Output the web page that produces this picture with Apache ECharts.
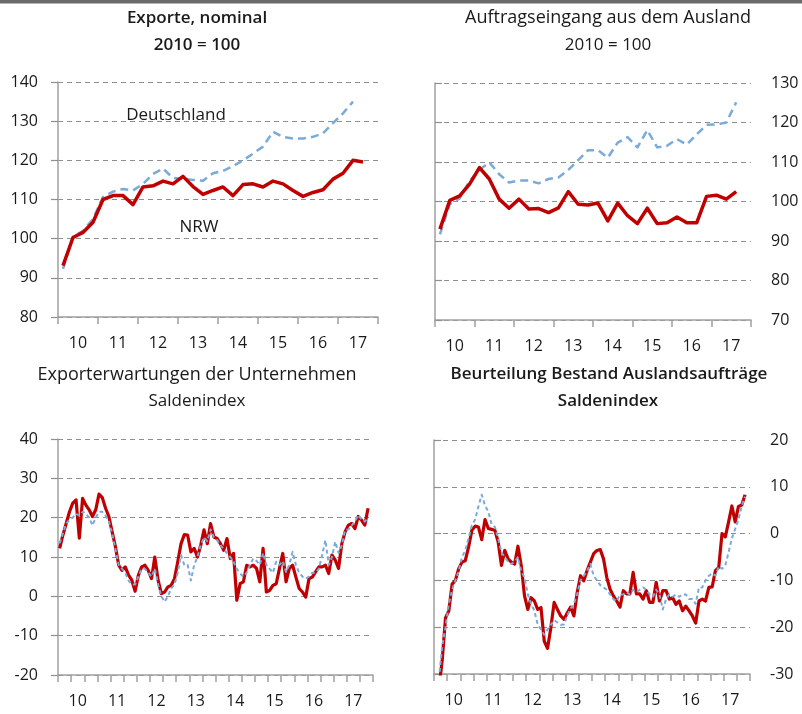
<!DOCTYPE html>
<html><head><meta charset="utf-8">
<script src="https://cdn.jsdelivr.net/npm/echarts@6/dist/echarts.min.js"></script>
<style>html,body{margin:0;padding:0;background:#fff}#c{width:802px;height:714px}</style>
</head><body><div id="c"></div>
<script>
// Year labels on the x axes
const yearLabels = ['10','11','12','13','14','15','16','17'];

// Panel 1: Exporte, nominal (quarterly, 2010 = 100)
const exportNRW = [93.1, 100.3, 101.6, 104.2, 110.0, 111.0, 111.0, 108.7, 113.2, 113.5, 114.7, 114.0, 115.9, 113.3, 111.3, 112.3, 113.2, 111.0, 113.8, 114.0, 113.2, 114.7, 114.0, 112.3, 110.8, 111.8, 112.5, 115.2, 116.7, 120.0, 119.6];
const exportDE  = [92.3, 100.5, 102.0, 105.0, 110.7, 112.0, 112.7, 112.3, 114.0, 116.5, 117.9, 115.5, 115.3, 115.0, 114.8, 116.7, 117.3, 118.5, 120.0, 121.7, 123.5, 127.3, 126.0, 125.6, 125.6, 126.0, 126.9, 129.5, 132.0, 135.0];

// Panel 2: Auftragseingang aus dem Ausland (quarterly, 2010 = 100)
const orderNRW = [93.0, 100.3, 101.4, 104.4, 108.6, 105.7, 100.6, 98.3, 100.6, 98.1, 98.2, 97.2, 98.4, 102.5, 99.3, 99.1, 99.6, 95.1, 99.6, 96.4, 94.4, 98.3, 94.4, 94.6, 96.1, 94.6, 94.6, 101.3, 101.6, 100.6, 102.5];
const orderDE  = [91.7, 99.3, 100.8, 105.2, 108.0, 109.9, 106.9, 104.8, 105.3, 105.3, 104.6, 105.7, 106.1, 108.0, 110.5, 113.0, 113.0, 111.1, 114.9, 116.3, 113.7, 118.1, 113.7, 114.1, 115.8, 114.4, 117.0, 119.4, 119.5, 120.0, 125.1];

// Panel 3: Exporterwartungen der Unternehmen (monthly, Saldenindex)
const expectNRW = [12.2, 15.6, 18.5, 21.5, 23.7, 24.5, 14.8, 24.9, 23.2, 22.0,
  20.3, 22.0, 26.0, 25.1, 22.4, 20.3, 16.4, 12.6, 7.9, 6.6,
  7.5, 5.4, 4.1, 1.3, 5.4, 7.5, 7.9, 6.6, 4.5, 10.0,
  4.1, 0.7, 1.1, 2.4, 2.8, 4.5, 8.8, 13.4, 15.7, 15.6,
  11.3, 12.2, 10.0, 13.0, 16.9, 13.4, 18.5, 15.1, 14.7, 13.4,
  11.7, 14.7, 9.6, 10.9, -1.0, 3.2, 3.7, 7.9, 7.5, 7.9,
  7.1, 3.7, 12.2, 1.1, 1.5, 2.8, 3.2, 7.1, 10.9, 3.7,
  7.1, 7.9, 4.9, 2.0, 1.1, -0.2, 4.5, 4.9, 6.2, 7.5,
  7.5, 7.9, 5.8, 10.5, 9.2, 7.1, 13.4, 16.4, 18.1, 18.5,
  17.2, 20.3, 19.4, 18.1, 22.4];
const expectDE = [13.5, 16, 18.5, 19.5, 20, 21, 20.5, 21.5, 21, 20,
  18, 20, 21.5, 21.5, 20.5, 19, 16, 12, 8, 7,
  6, 4, 3, 3, 5, 7, 7, 6, 5, 7,
  3, 0, -1.4, 0, 2, 3, 6, 10.5, 7.9, 8,
  4, 8, 10, 13, 15, 14, 17, 15, 14.3, 13,
  12, 11, 10, 8.8, 7, 5.8, 5, 6, 8, 9.6,
  9, 8, 11, 8, 7, 6, 8.8, 8, 9, 6.2,
  8, 11.3, 8, 6, 5, 4.5, 5, 6, 6, 7,
  10.5, 14.3, 8, 10, 13.9, 11, 13, 16.9, 17, 18,
  19, 20.7, 19.5, 19, 20];

// Panel 4: Beurteilung Bestand Auslandsauftraege (monthly, Saldenindex)
const stockNRW = [-40, -33, -27, -18, -16.5, -10.8, -10, -7.5, -6.1, -5.8,
  -2.9, 0.7, 1.6, 1.4, -1.3, 3, 1.1, 0.9, 0.7, -1.8,
  -6.8, -3.6, -5.4, -6.1, -6.5, -2.7, -6.8, -13.3, -16.2, -13.7,
  -14.4, -16.2, -15.8, -23, -24.5, -20.1, -14.7, -16.2, -17.6, -18.3,
  -16.9, -15.7, -17.6, -12.6, -9, -10.1, -7.9, -6.1, -4.3, -3.6,
  -3.4, -5.4, -9.4, -11.9, -13.3, -14.4, -15.7, -12.2, -12.9, -12.9,
  -8.3, -12.9, -12.9, -14, -12.2, -14.7, -14.7, -10.4, -14.4, -12.2,
  -12.2, -14, -13.7, -15.1, -14.4, -16.5, -15.5, -16.5, -17.6, -19.1,
  -14.4, -14, -14.4, -11.5, -11.4, -7.9, -7.2, 0, -0.7, 2.5,
  5.9, 2.5, 5.8, 6.1, 8.3];
const stockDE = [-40, -31, -24, -20, -15, -12, -10, -8, -5, -3.6,
  -1, 1.8, 3, 5.8, 8.3, 6, 4.7, 2, 1.4, -1,
  -4, -5, -6, -6.5, -6, -5, -8, -9.4, -13, -15,
  -16.5, -19.4, -20.5, -21.6, -20.5, -19.5, -18.5, -19, -19.5, -19.4,
  -17.5, -16, -15, -12.9, -10, -9, -8, -6.5, -9, -10,
  -11, -11.5, -12, -13, -14, -14.5, -13, -13, -12.5, -13,
  -12, -12.5, -12, -11.5, -12, -13, -13.5, -12, -13, -16.2,
  -14, -13, -13.5, -13, -13.5, -13, -13, -14, -14, -15,
  -11.5, -11.5, -10, -9, -8.5, -9, -7, -7.5, -6.8, -4,
  -1, 1, 3, 6, 7.9];

const RED = '#c00000', BLUE = '#7aaad8', GRID = '#8f8f8f', AXIS = '#a0a0a0', TXT = '#1a1a1a';
const FONT = '"Open Sans", "DejaVu Sans", sans-serif';

const toXY = arr => arr.map((v, i) => [i + 0.5, v]);

const grids = [
  {left: 58, top: 82, width: 320, height: 235},
  {left: 435, top: 83, width: 316, height: 237},
  {left: 58, top: 439, width: 315, height: 236},
  {left: 434, top: 440, width: 316, height: 234}
];
// per panel: periods per year, y range, y side
const panels = [
  {ppy: 4, min: 80, max: 140, pos: 'left'},
  {ppy: 4, min: 70, max: 130, pos: 'right'},
  {ppy: 12, min: -20, max: 40, pos: 'left'},
  {ppy: 12, min: -30, max: 20, pos: 'right'}
];

const xAxis = [], yAxis = [];
panels.forEach((p, g) => {
  const total = p.ppy * yearLabels.length;
  xAxis.push({
    type: 'value', gridIndex: g, min: 0, max: total, interval: 4, position: 'bottom',
    axisLine: {show: true, onZero: false, lineStyle: {color: AXIS, width: 1.5}},
    axisTick: {show: true, length: 7, lineStyle: {color: AXIS, width: 1.5}},
    axisLabel: {show: false}, splitLine: {show: false}
  });
  const half = p.ppy / 2;
  xAxis.push({
    type: 'value', gridIndex: g, min: 0, max: total, interval: half, position: 'bottom',
    axisLine: {show: false, onZero: false}, axisTick: {show: false}, splitLine: {show: false},
    axisLabel: {
      show: true, margin: 18, color: TXT, fontSize: 16, fontFamily: FONT,
      formatter: v => (Math.round(v) % p.ppy === half) ? yearLabels[Math.floor(v / p.ppy)] : ''
    }
  });
  yAxis.push({
    type: 'value', gridIndex: g, min: p.min, max: p.max, interval: 10, position: p.pos,
    axisLine: {show: true, lineStyle: {color: AXIS, width: 1.5}},
    axisTick: {show: true, length: 7, lineStyle: {color: GRID, width: 1.2}},
    axisLabel: {margin: 20, color: TXT, fontSize: 16, fontFamily: FONT},
    splitLine: {show: true, lineStyle: {color: GRID, width: 1.2, type: [5, 4]}}
  });
});

function line(data, g, color, width, dashed, z) {
  return {
    type: 'line', xAxisIndex: g * 2, yAxisIndex: g, data: toXY(data),
    symbol: 'none', clip: true, z: z,
    lineStyle: {color: color, width: width, type: dashed || 'solid', cap: 'butt', join: 'round'}
  };
}

const series = [
  line(exportDE, 0, BLUE, 2.5, [8, 5], 2),
  line(exportNRW, 0, RED, 3.5, null, 3),
  line(orderDE, 1, BLUE, 2.5, [8, 5], 2),
  line(orderNRW, 1, RED, 3.5, null, 3),
  line(expectNRW, 2, RED, 3.2, null, 2),
  line(expectDE, 2, BLUE, 2, [4, 3], 3),
  line(stockNRW, 3, RED, 3.2, null, 2),
  line(stockDE, 3, BLUE, 2, [4, 3], 3)
];

function txt(x, y, text, bold, size) {
  return {
    type: 'text', x: x, y: y, silent: true,
    style: {text: text, fill: TXT, font: (bold ? '600 ' : '') + (size || 17) + 'px ' + FONT,
            align: 'center', verticalAlign: 'middle'}
  };
}

const graphic = [
  {type: 'rect', shape: {x: 0, y: 0, width: 802, height: 3.5}, style: {fill: '#6a6a6a'}, silent: true},
  txt(197, 18, 'Exporte, nominal', true),
  txt(197, 45, '2010 = 100', true),
  txt(608, 18, 'Auftragseingang aus dem Ausland', false, 18),
  txt(608, 45, '2010 = 100', false),
  txt(197, 375, 'Exporterwartungen der Unternehmen', false, 18),
  txt(197, 401, 'Saldenindex', false),
  txt(609, 374, 'Beurteilung Bestand Auslandsaufträge', true),
  txt(608, 401, 'Saldenindex', true),
  txt(176, 115, 'Deutschland', false),
  txt(199, 227, 'NRW', false)
];

const chart = echarts.init(document.getElementById('c'), null, {renderer: 'canvas'});
chart.setOption({
  animation: false,
  backgroundColor: '#fff',
  grid: grids,
  xAxis: xAxis,
  yAxis: yAxis,
  series: series,
  graphic: graphic
});
</script>
</body></html>
